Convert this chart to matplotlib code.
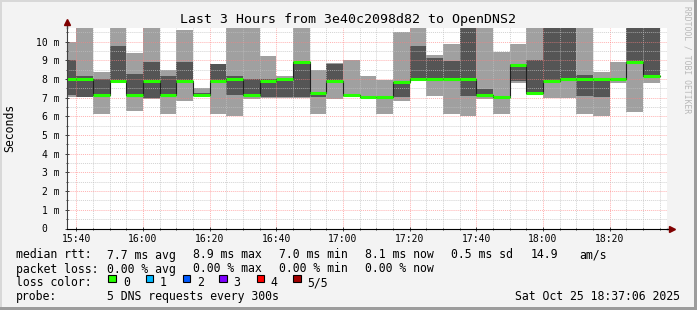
import matplotlib
matplotlib.use('Agg')
import matplotlib.pyplot as plt
import matplotlib.dates as mdates
from matplotlib.patches import Rectangle
from matplotlib.ticker import MultipleLocator, FuncFormatter
from datetime import datetime
import numpy as np
import pandas as pd

W, H = 697, 310

# smoke: 5 sorted pings per 5 minute step (ms)
ping_min = [7.05, 7.03, 6.12, 7.84, 6.30, 6.93, 6.12, 6.85, 7.08, 6.12, 6.02, 6.93,
            7.00, 7.00, 7.00, 6.12, 6.93, 7.05, 7.02, 6.12, 6.84, 7.93, 7.10, 6.11,
            6.00, 6.93, 6.15, 7.80, 7.15, 7.00, 7.00, 6.12, 6.00, 7.80, 6.23, 7.80]
ping_lo = [7.12, 7.05, 7.12, 7.85, 7.12, 7.00, 7.12, 7.86, 7.10, 7.86, 7.12, 7.10,
           7.02, 7.02, 7.02, 7.05, 7.86, 7.08, 7.03, 7.01, 7.02, 7.95, 7.98, 7.98,
           7.10, 7.10, 7.00, 7.88, 7.18, 7.86, 7.98, 7.08, 7.02, 7.93, 8.87, 8.12]
median = [8.00, 8.00, 7.13, 7.87, 7.13, 7.88, 7.13, 7.88, 7.12, 7.88, 8.00, 7.12,
          7.90, 8.00, 8.91, 7.25, 7.88, 7.13, 7.04, 7.03, 7.82, 8.00, 8.00, 8.00,
          8.00, 7.12, 7.03, 8.77, 7.23, 7.88, 8.00, 8.00, 8.00, 8.00, 8.90, 8.15]
ping_hi = [9.00, 8.15, 8.00, 9.77, 8.27, 8.90, 8.14, 8.90, 7.27, 8.78, 8.14, 8.00,
           8.00, 8.02, 8.93, 7.27, 8.78, 7.20, 7.06, 7.05, 7.84, 9.79, 9.11, 8.98,
           11.0, 7.45, 7.05, 8.80, 9.00, 11.0, 11.0, 8.20, 8.02, 8.02, 11.0, 11.0]
ping_max = [10.00, 11.0, 8.38, 11.0, 9.41, 11.0, 8.46, 10.60, 7.52, 8.78, 11.0, 11.0,
            9.22, 8.14, 11.0, 8.46, 8.88, 9.00, 8.15, 7.97, 10.54, 11.0, 9.29, 9.88,
            11.0, 11.0, 9.44, 9.90, 11.0, 11.0, 11.0, 11.0, 8.37, 8.90, 11.0, 11.0]

loss_labels = ['0', '1', '2', '3', '4', '5/5']
loss_colors = ['#26ff00', '#00b8ff', '#0059ff', '#7e00ff', '#ff0000', '#a10000']

t_start = datetime(2025, 10, 25, 15, 37, 6)
t_end = datetime(2025, 10, 25, 18, 37, 6)
steps = pd.date_range('2025-10-25 15:35', periods=len(median), freq='5min')


def px(x, y):
    return x / W, 1 - y / H


mono = 'DejaVu Sans Mono'
plt.rcParams['font.family'] = mono

fig = plt.figure(figsize=(W / 100, H / 100), dpi=100, facecolor='#f3f3f3')
ax = fig.add_axes([66.7 / W, (H - 228.5) / H, 600 / W, 200.5 / H])
ax.set_facecolor('white')

x = mdates.date2num(steps.to_pydatetime())
w = 5 / 1440.0
ax.bar(x, np.subtract(ping_max, ping_min), bottom=ping_min, width=w, align='edge',
       color='#a0a0a0', linewidth=0, zorder=1)
ax.bar(x, np.subtract(ping_hi, ping_lo), bottom=ping_lo, width=w, align='edge',
       color='#555555', linewidth=0, zorder=2)
ax.step(np.append(x, x[-1] + w), np.append(median, median[-1]), where='post',
        color='#202020', lw=0.8, zorder=3)
ax.hlines(median, x, x + w, color=loss_colors[0], lw=2.2, zorder=4)

ax.set_xlim(mdates.date2num(t_start), mdates.date2num(t_end))
ax.set_ylim(0, 10.73)

ax.xaxis.set_major_locator(mdates.MinuteLocator(byminute=[0, 20, 40]))
ax.xaxis.set_minor_locator(mdates.MinuteLocator(byminute=range(0, 60, 5)))
ax.xaxis.set_major_formatter(mdates.DateFormatter('%H:%M'))
ax.yaxis.set_major_locator(MultipleLocator(1))
ax.yaxis.set_minor_locator(MultipleLocator(0.5))
ax.yaxis.set_major_formatter(FuncFormatter(lambda v, p: '0  ' if v == 0 else '%d m' % v))

ax.set_axisbelow(False)
ax.grid(which='major', color='#ff8080', alpha=0.6, linestyle=(0, (1, 1)), lw=0.7, zorder=5)
ax.grid(which='minor', color='#c0c0c0', alpha=0.7, linestyle=(0, (1, 1)), lw=0.7, zorder=5)

ax.tick_params(which='both', direction='inout', color='#404040', width=0.7, labelsize=7)
ax.tick_params(which='major', length=3)
ax.tick_params(which='minor', length=2)
ax.tick_params(axis='x', pad=2.5)
ax.tick_params(axis='y', pad=3.8)

for s in ['top', 'right']:
    ax.spines[s].set_visible(False)
ax.spines['left'].set_color('#404040')
ax.spines['bottom'].set_color('black')
ax.spines['left'].set_zorder(6)
ax.spines['bottom'].set_zorder(6)

# axis arrows
ax.plot([1.0, 1.006], [0, 0], transform=ax.transAxes, color='black', lw=1, clip_on=False)
ax.plot([1.0095], [0], transform=ax.transAxes, marker='>', ms=4, color='#800000',
        clip_on=False, zorder=7)
ax.plot([0, 0], [1.0, 1.02], transform=ax.transAxes, color='#404040', lw=1, clip_on=False)
ax.plot([0], [1.03], transform=ax.transAxes, marker='^', ms=4, color='#800000',
        clip_on=False, zorder=7)

fig.text(*px(348, 19), 'Last 3 Hours from 3e40c2098d82 to OpenDNS2',
         fontsize=9.5, ha='center', va='center')
fig.text(*px(10, 128), 'Seconds', rotation=90, fontsize=8.3, ha='center', va='center')
fig.text(*px(686.5, 60), 'RRDTOOL / TOBI OETIKER', rotation=270, fontsize=5.8,
         color='#b8b8b8', ha='center', va='center')

fs = 8.3
rows = [
    (258.5, [(16, 'median rtt:'), (107.3, '7.7 ms avg'), (193.3, '8.9 ms max'),
             (279.3, '7.0 ms min'), (365, '8.1 ms now'), (451, '0.5 ms sd'),
             (530.7, '14.9'), (579.3, 'am/s')]),
    (272.5, [(16, 'packet loss:'), (107.3, '0.00 % avg'), (193.3, '0.00 % max'),
             (279.3, '0.00 % min'), (365, '0.00 % now')]),
    (286.5, [(16, 'loss color:')]),
    (300, [(16, 'probe:'), (107.3, '5 DNS requests every 300s')]),
]
for yb, items in rows:
    for xl, s in items:
        fig.text(*px(xl, yb), s, fontsize=fs, ha='left', va='baseline')

box_x = [108.3, 145.7, 182.7, 219.3, 256.7, 293.3]
lab_x = [123.3, 160.0, 196.7, 233.3, 270.7, 307.3]
for bx, lx, lab, c in zip(box_x, lab_x, loss_labels, loss_colors):
    x0, y0 = px(bx, 282)
    fig.add_artist(Rectangle((x0, y0), 7.5 / W, 7.5 / H, transform=fig.transFigure,
                             facecolor=c, edgecolor='black', lw=0.8))
    fig.text(*px(lx, 286.5), lab, fontsize=fs, ha='left', va='baseline')

fig.text(*px(680, 300), 'Sat Oct 25 18:37:06 2025', fontsize=fs, ha='right', va='baseline')

# 3d frame
fig.add_artist(Rectangle((0, 1 - 2 / H), 1, 2 / H, transform=fig.transFigure,
                         facecolor='#d8d8d8', lw=0))
fig.add_artist(Rectangle((0, 0), 2 / W, 1, transform=fig.transFigure,
                         facecolor='#d8d8d8', lw=0))
fig.add_artist(Rectangle((0, 0), 1, 3 / H, transform=fig.transFigure,
                         facecolor='#9c9c9c', lw=0))
fig.add_artist(Rectangle((1 - 3 / W, 0), 3 / W, 1, transform=fig.transFigure,
                         facecolor='#9c9c9c', lw=0))

fig.savefig('out.png', dpi=100, facecolor=fig.get_facecolor())
